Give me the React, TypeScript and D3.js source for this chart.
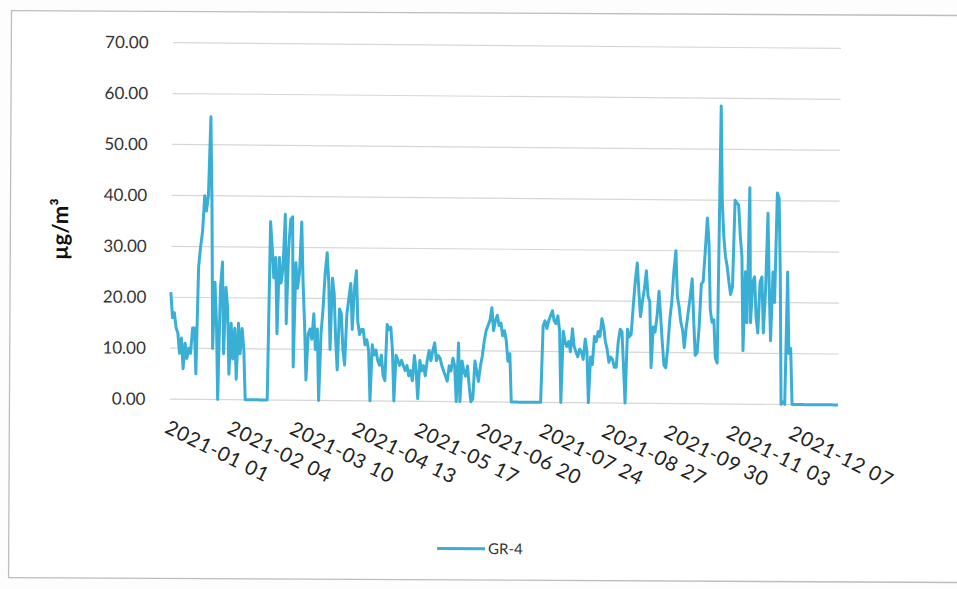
import React from 'react';
import * as d3 from 'd3';

// Daily GR-4 concentrations for 2021 (µg/m³), one array per month
const jan = [21, 16, 17, 14, 13, 9, 12, 6, 11, 8, 10, 9, 14, 14, 5, 26, 30, 33, 40, 37, 40, 55.5, 38, 10, 23, 15, 0, 22, 27, 9, 22];
const feb = [18, 5, 15, 8, 14, 4, 15, 9, 14, 10, 0, 0, 0, 0, 0, 0, 0, 0, 0, 0, 0, 0, 0, 35, 30, 24, 28, 13];
const mar = [28, 23, 26, 36.5, 15, 30, 35.5, 36, 6.5, 27, 22, 25, 35, 23, 15, 4, 13, 14, 12, 17, 10, 14, 0, 13, 18, 25, 29, 23, 10, 24, 21];
const apr = [12, 6, 18, 17, 10, 7, 17, 20, 23, 14, 22, 25.5, 15.5, 13, 14, 14, 11, 12, 10, 0, 11, 9, 10, 8, 7, 9, 5, 4, 15, 14];
const may = [14.5, 10, 0, 9, 8, 7, 8, 7, 6, 7, 5, 6, 4, 9, 6, 0.5, 8, 6, 7, 5, 8, 10, 8, 10, 11.5, 8, 9, 8.5, 7, 6, 5];
const jun = [4, 7, 6, 8.5, 7, 0, 11.5, 0, 8, 6, 5, 7, 3, 0, 0.5, 8, 6, 4, 7, 9, 12, 14, 15, 16, 18.5, 14, 16, 17, 15, 15.5];
const jul = [13, 14, 12, 8, 9.5, 0, 0, 0, 0, 0, 0, 0, 0, 0, 0, 0, 0, 0, 0, 0, 0, 0, 15, 16, 14.5, 16, 17, 18, 16, 15.5, 17];
const aug = [14, 0, 14, 12, 11, 12, 10, 14.5, 11, 10, 9, 10.5, 10, 8.5, 12.5, 10, 0, 9, 7.5, 13, 12, 14, 13, 16.5, 15, 12, 10.5, 8, 9, 8.5, 7];
const sep = [7, 12, 14.5, 14, 7, 0, 14.5, 13, 13.5, 19, 24, 27.5, 22, 17, 20, 22.5, 26, 21, 20, 7, 15, 14, 17, 22, 17, 12, 7.5, 7, 11, 16.5];
const oct = [20, 26, 30, 21, 19, 16, 14.5, 11, 15, 18, 21, 24.5, 16.5, 9.5, 10, 15, 23.5, 24, 30, 36.5, 31.5, 18.5, 16, 16.5, 9, 8, 58.5, 40, 33, 29, 27];
const nov = [24, 21.5, 23, 40, 39.5, 39, 33, 29, 10.5, 26, 16, 42.5, 16, 24, 25, 17, 14, 24, 25, 14, 22, 37.5, 23, 12.5, 26, 20, 41.5, 40.5, 25, 0];
const dec = [0.5, 0, 26, 10, 11, 0, 0, 0, 0, 0, 0, 0, 0, 0, 0, 0, 0, 0, 0, 0, 0, 0, 0, 0, 0, 0, 0, 0, 0, 0, 0];

const seriesName = 'GR-4';
const yTicks = [0, 10, 20, 30, 40, 50, 60, 70];
const xTickLabels = [
  '2021-01 01', '2021-02 04', '2021-03 10', '2021-04 13', '2021-05 17', '2021-06 20',
  '2021-07 24', '2021-08 27', '2021-09 30', '2021-11 03', '2021-12 07',
];
const tickStep = 34;
const yTitle = 'µg/m³';

const values = [...jan, ...feb, ...mar, ...apr, ...may, ...jun, ...jul, ...aug, ...sep, ...oct, ...nov, ...dec];
const fmtDay = d3.timeFormat('%Y-%m %d');
const days = values.map((_, i) => fmtDay(new Date(2021, 0, 1 + i)));

const W = 957;
const H = 589;
const plot = { left: 171.5, right: 839.5, top: 45.5, bottom: 402 };
const lineColor = '#3aafd6';
const font = 'Lato, "Open Sans", sans-serif';

export default function App() {
  const x = d3.scalePoint<string>().domain(days).range([plot.left, plot.right]).padding(0);
  const y = d3.scaleLinear().domain([0, 70]).range([plot.bottom, plot.top]);
  const line = d3
    .line<number>()
    .x((_, i) => x(days[i]) as number)
    .y((d) => y(d));
  const path = line(values) || '';

  return (
    <svg
      width={W}
      height={H}
      viewBox={`0 0 ${W} ${H}`}
      style={{ position: 'absolute', left: 0, top: 0, background: '#fff' }}
    >
      <rect width={W} height={H} fill="#fdfdfd" />
      <g transform="rotate(0.3, 478, 300)">
        <rect x={10} y={13} width={1000} height={567} fill="#fff" stroke="#bdbdbd" strokeWidth={1.3} />
      </g>
      <g transform="rotate(0.5, 504, 222)">
        {yTicks.map((t) => (
          <line key={t} x1={plot.left} x2={plot.right} y1={y(t)} y2={y(t)} stroke="#d6d6d6" strokeWidth={1.2} />
        ))}
        {yTicks.map((t) => (
          <text
            key={'l' + t}
            x={147}
            y={y(t)}
            dy="0.35em"
            textAnchor="end"
            fontFamily={font}
            fontSize={17}
            fill="#333"
          >
            {t.toFixed(2)}
          </text>
        ))}
        <text
          transform={`translate(68, 233) rotate(-90)`}
          textAnchor="middle"
          fontFamily={font}
          fontWeight="bold"
          fontSize={22}
          fill="#111"
        >
          {yTitle}
        </text>
        <path d={path} fill="none" stroke={lineColor} strokeWidth={3} strokeLinejoin="round" />
        {xTickLabels.map((lab, k) => {
          const px = x(days[k * tickStep]) as number;
          return (
            <text
              key={lab}
              transform={`translate(${px - 6}, ${plot.bottom + 33}) rotate(26)`}
              fontFamily={font}
              fontSize={20}
              letterSpacing={0.8}
              fill="#222"
            >
              {lab}
            </text>
          );
        })}
        <line x1={440} x2={488} y1={549} y2={549} stroke={lineColor} strokeWidth={3} />
        <text x={491} y={549} dy="0.35em" fontFamily={font} fontSize={15} fill="#333">
          {seriesName}
        </text>
      </g>
    </svg>
  );
}
